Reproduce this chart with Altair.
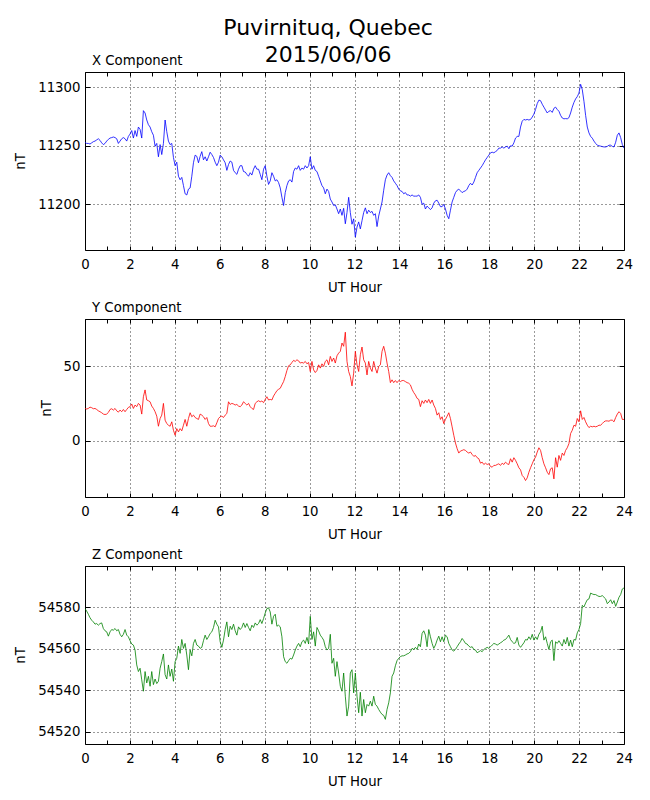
import altair as alt
import pandas as pd

N = 324
HOURS = [round(i * 24 / (N - 1), 4) for i in range(N)]

X_VALS = [
    11253, 11252, 11252, 11251.5, 11252.5, 11253.5, 11254, 11255, 11256, 11254.6,
    11252.5, 11251, 11252, 11254, 11255.5, 11256.6, 11257, 11257.5, 11257, 11256,
    11252, 11254, 11256, 11257, 11256, 11254, 11258, 11260, 11263, 11256.6,
    11263, 11258, 11266, 11264, 11256.6, 11280, 11278, 11272, 11268, 11266,
    11262, 11259, 11249.6, 11252, 11240.6, 11251, 11242.5, 11252, 11272, 11262,
    11254, 11251, 11252, 11240, 11233, 11236, 11224, 11221, 11223, 11216,
    11209, 11208, 11213, 11214, 11224, 11235.5, 11242, 11241, 11235.5, 11241,
    11245, 11238, 11240.6, 11237, 11240.6, 11244.5, 11242.5, 11240, 11236, 11233,
    11236, 11242, 11240.6, 11238, 11235.5, 11229, 11234, 11237, 11236, 11229,
    11227, 11225.6, 11230, 11233, 11233, 11228, 11227.6, 11225.6, 11224, 11227,
    11225, 11230, 11233, 11230, 11230, 11225.6, 11221, 11230, 11233, 11224,
    11217, 11220, 11227, 11224, 11220, 11221, 11218.6, 11214, 11206, 11199,
    11210, 11216, 11220, 11221, 11219, 11228, 11231, 11230, 11233, 11229,
    11231, 11230, 11233, 11231, 11233, 11240.6, 11230, 11233, 11229, 11228,
    11224, 11220, 11216, 11214, 11209, 11213, 11211, 11204.5, 11202, 11199,
    11199.6, 11196, 11192, 11196, 11190.6, 11196.6, 11183.4, 11193, 11206, 11193,
    11183, 11187.6, 11172, 11180.6, 11185, 11179, 11186, 11193, 11197, 11192,
    11195, 11193, 11194, 11190.6, 11192, 11181, 11190, 11196, 11202, 11212,
    11221, 11225, 11227, 11224.5, 11223, 11220, 11218, 11216, 11213, 11211.5,
    11211, 11209, 11210, 11208, 11208, 11207, 11208, 11207, 11207, 11207,
    11208, 11206, 11200, 11201, 11196, 11198.5, 11197, 11195.5, 11197, 11201,
    11203, 11203.5, 11201, 11198, 11198, 11200, 11196, 11190.6, 11187.7, 11195,
    11202, 11206, 11210, 11212, 11213, 11211.5, 11210, 11211, 11211.5, 11213,
    11216, 11218, 11216.5, 11219, 11223, 11227, 11229, 11231, 11233, 11235.5,
    11238, 11240, 11242, 11244, 11244.5, 11244, 11245, 11246, 11248, 11248,
    11249, 11248, 11249, 11249.7, 11247.5, 11250, 11249.7, 11252.5, 11256.6, 11258,
    11258, 11266, 11271, 11272.5, 11272, 11272.5, 11272, 11272.5, 11274.5, 11277,
    11281, 11286, 11289, 11288.5, 11285.5, 11283, 11280.5, 11278, 11279.5, 11280,
    11278.5, 11282, 11283, 11281, 11279.5, 11276, 11273.7, 11273, 11273.2, 11273,
    11274, 11278, 11283, 11287, 11290, 11292, 11295, 11302.5, 11298, 11288,
    11276, 11266, 11261, 11258, 11256.5, 11254, 11252, 11250.5, 11250, 11249.7,
    11249.3, 11249, 11249, 11249.5, 11250.5, 11250.5, 11249.5, 11249, 11253, 11259,
    11261, 11257, 11251, 11248,
]

Y_VALS = [
    21.7, 21.3, 21.7, 22.6, 22.2, 21.5, 21.7, 21, 20.1, 19.5,
    18.8, 17.9, 17.6, 17.9, 19, 21, 21.5, 20.6, 21.7, 20.1,
    19.2, 20.6, 19.5, 21, 19.5, 21, 22.4, 22.9, 24.7, 21.7,
    24, 22.9, 25.1, 24, 17.9, 29.6, 34.2, 27.4, 26.9, 26.2,
    23.3, 21.7, 19.5, 16.5, 9.7, 14.9, 17.2, 25.1, 13.8, 11.5,
    10.4, 9.7, 12.7, 7, 3.6, 8.1, 5.9, 8.1, 6.6, 10.4,
    14.3, 9.7, 14.9, 18.8, 16.1, 17.2, 15.6, 14.9, 14.3, 17.9,
    17.2, 16.1, 14.3, 15.6, 11.5, 9.7, 9.7, 10, 9.3, 12,
    14.9, 16.1, 16.5, 15.6, 17.2, 18.3, 26.2, 24.4, 25.1, 24.7,
    24, 24.4, 23.3, 22.9, 24, 26.2, 25.1, 24, 25.1, 22.9,
    21.7, 21, 25.1, 26.2, 26.9, 26.2, 26.7, 25.6, 27.8, 29.6,
    27.4, 27.8, 27.4, 30.1, 31.9, 33.7, 34.6, 35.3, 37.6, 39.8,
    43.2, 47.3, 50.5, 51.1, 52.7, 54.1, 53.4, 54.5, 53.8, 52.3,
    52.7, 52.3, 53.4, 51.8, 52.7, 46.6, 53.4, 47.7, 45.9, 47.3,
    51.1, 48.9, 51.8, 50, 53.4, 54.5, 51.1, 56.8, 53.4, 55.7,
    52.3, 57.2, 59, 60.2, 65.8, 63.6, 73.1, 53.4, 46.6, 43.2,
    36.9, 45.5, 60.2, 51.1, 46.6, 57.9, 63.1, 54.5, 52.3, 44.3,
    53.4, 48.9, 46.6, 53.4, 48.9, 45.5, 50, 51.1, 60.2, 63.6,
    59, 52.3, 46.6, 39.1, 41, 39.1, 40.5, 39.1, 40.5, 39.8,
    40.5, 40.5, 39.8, 39.1, 38.7, 37.6, 34.6, 32.4, 30.8, 28.5,
    27.8, 22.9, 26.9, 25.1, 27.4, 25.6, 27.8, 25.1, 27.4, 24,
    21.7, 17.2, 18.8, 14.3, 16.1, 11.5, 14.3, 16.5, 18.8, 14.9,
    9.3, 3.6, -1.6, -5.4, -8.4, -7, -6.6, -6.1, -6.6, -7.7,
    -8.4, -7.7, -9.3, -10.6, -10, -11.5, -12.2, -15.2, -14.5, -16.1,
    -15.2, -16.1, -15.6, -17.4, -17.9, -16.7, -16.7, -16.1, -15.6, -16.7,
    -15.2, -16.1, -14.5, -15.6, -16.1, -12.2, -14.5, -11.5, -13.3, -15.6,
    -18.3, -19.7, -23.5, -24.7, -26.9, -25.1, -21.3, -18.3, -15.6, -12.9,
    -11.1, -7.7, -4.8, -6.6, -11.5, -15.6, -18.3, -21.3, -22.9, -19,
    -18.3, -25.8, -11.5, -17.9, -10, -13.3, -8.4, -10, -6.6, -4.8,
    -2, 4.8, 7, 10.4, 9.7, 14.9, 12.7, 20.1, 14.3, 15.6,
    12.7, 10.4, 8.8, 9.7, 9.3, 9.7, 9.3, 9.7, 10.4, 10.4,
    11.5, 12.7, 13.3, 13.3, 13.1, 13.8, 13.8, 12.7, 15.6, 17.9,
    19.5, 18.3, 14.3, 14.3,
]

Z_VALS = [
    54579.4, 54578.2, 54576.7, 54575, 54573.8, 54573, 54571.9, 54572.2, 54571.4, 54572.2,
    54572.5, 54569.8, 54568.7, 54568.2, 54566.1, 54568.2, 54569.3, 54569, 54569.8, 54568.7,
    54569.3, 54567, 54565.8, 54567, 54569.3, 54566.6, 54565.8, 54563.9, 54562.3, 54561.8,
    54559.4, 54552.2, 54549, 54550.6, 54545, 54539.5, 54549, 54543.5, 54546.7, 54541.9,
    54549, 54542.7, 54545.4, 54543.2, 54544.3, 54550.6, 54553.8, 54557.5, 54547.5, 54545.4,
    54552.2, 54546.7, 54550.2, 54544.3, 54553.8, 54555.4, 54561.3, 54557.8, 54564.5, 54560.2,
    54562.6, 54557, 54549.9, 54559.4, 54556.6, 54562.6, 54564.5, 54561.8, 54561.3, 54560.2,
    54560.7, 54563.9, 54566.6, 54564.5, 54565.8, 54567.4, 54568.2, 54570.3, 54573.8, 54571.9,
    54570.6, 54563.4, 54560.7, 54564.2, 54569.3, 54573, 54565.8, 54570.9, 54569.3, 54571.9,
    54568.7, 54566.6, 54570.6, 54569.3, 54570.3, 54572.5, 54570.3, 54572.2, 54570.3, 54568.7,
    54571.4, 54570.3, 54572.5, 54571.4, 54572.2, 54574.1, 54572.2, 54574.6, 54577.3, 54579.4,
    54579.8, 54577.8, 54571.9, 54575.7, 54576.7, 54570.9, 54571.4, 54570.6, 54565.8, 54556.2,
    54553.8, 54553, 54554.3, 54555.4, 54555, 54557, 54559.4, 54561.3, 54562.6, 54561,
    54563.4, 54564.2, 54562.6, 54565.5, 54562.3, 54575.7, 54564.5, 54568.2, 54561.3, 54570.3,
    54568.7, 54566.6, 54565.5, 54564.2, 54561, 54559.4, 54560.2, 54567, 54553, 54555.4,
    54546.7, 54553.8, 54548.3, 54541.9, 54539.5, 54548.3, 54537.1, 54527.5, 54532.3, 54548.3,
    54549.9, 54538.7, 54548.3, 54537.1, 54529.1, 54539, 54527.5, 54535.5, 54529.1, 54533.1,
    54532.3, 54534.7, 54532.3, 54537.1, 54533.1, 54532.3, 54530.7, 54529.4, 54528.3, 54527.8,
    54525.9, 54530.7, 54533.9, 54538.7, 54546.7, 54548.3, 54551.8, 54554.3, 54555.4, 54556.2,
    54556.6, 54556.6, 54557, 54557.5, 54557.8, 54558.6, 54560.2, 54559.7, 54560.7, 54559.7,
    54562.3, 54561, 54567.4, 54568.7, 54566.6, 54561, 54569.3, 54565.8, 54562.6, 54560.2,
    54561.8, 54564.2, 54566.1, 54563.4, 54565.8, 54563.4, 54566.6, 54565.8, 54562.6, 54561,
    54559.4, 54558.9, 54559.7, 54561, 54562.3, 54563.4, 54565, 54563.9, 54562.6, 54562.3,
    54561.3, 54560.7, 54561, 54559.7, 54559.4, 54558.1, 54558.6, 54559.1, 54558.6, 54559.7,
    54560.2, 54560.7, 54560.2, 54561, 54561.8, 54562.6, 54562.3, 54561.8, 54562.3, 54562.9,
    54563.4, 54564.2, 54564.5, 54565.5, 54566.6, 54564.5, 54563.4, 54562.6, 54562.9, 54565.5,
    54561.8, 54560.7, 54561.8, 54562.9, 54564.5, 54564.2, 54565.8, 54564.5, 54567, 54564.2,
    54565.8, 54564.5, 54567, 54568.2, 54570.9, 54564.2, 54565.8, 54562.6, 54559.7, 54563.4,
    54564.2, 54554.3, 54563.4, 54562.6, 54563.9, 54562.6, 54561.3, 54564.5, 54562.3, 54565.5,
    54561.3, 54564.2, 54561, 54564.5, 54564.2, 54567.7, 54569.3, 54572.2, 54581, 54580.2,
    54582.1, 54583.7, 54584.1, 54586.9, 54586.5, 54586.2, 54586.2, 54585.7, 54585.3, 54585.3,
    54585.7, 54584.9, 54584.1, 54581.8, 54582.6, 54583.7, 54581.8, 54583.3, 54580.5, 54582.6,
    54584.9, 54586.2, 54588.9, 54589.4,
]

X_LABEL_TICKS = [0, 2, 4, 6, 8, 10, 12, 14, 16, 18, 20, 22, 24]
X_ALL_TICKS = list(range(0, 25))

PANELS = [
    ("X Component", X_VALS, "#0000ff", [11161, 11313], [11200, 11250, 11300]),
    ("Y Component", Y_VALS, "#ff0000", [-38, 82], [0, 50]),
    ("Z Component", Z_VALS, "#008000", [54514, 54600], [54520, 54540, 54560, 54580]),
]

FONT = "DejaVu Sans"
W, H = 539, 178


def panel(name, vals, color, ydom, yticks):
    df = pd.DataFrame({"hour": HOURS, "value": vals})
    xs = alt.Scale(domain=[0, 24], nice=False)
    ys = alt.Scale(domain=ydom, nice=False, zero=False)
    base = alt.Chart(df)
    line = base.mark_line(color=color, strokeWidth=0.8, clip=True).encode(
        x=alt.X("hour:Q", scale=xs, axis=alt.Axis(
            values=X_LABEL_TICKS, title="UT Hour", grid=True, ticks=False,
            domain=False, labelPadding=7, labelFlush=False, titlePadding=10)),
        y=alt.Y("value:Q", scale=ys, axis=alt.Axis(
            values=yticks, format="d", title="nT", grid=True, ticks=False,
            domain=False, labelPadding=5, labelFlush=False, titlePadding=10)),
    )
    ticks_a = base.mark_line(strokeOpacity=0).encode(
        x=alt.X("hour:Q", scale=xs, axis=alt.Axis(
            orient="top", values=X_ALL_TICKS, labels=False, title=None, grid=False,
            domain=False, ticks=True, tickSize=4, offset=-4)),
        y=alt.Y("value:Q", scale=ys, axis=alt.Axis(
            orient="right", values=yticks, labels=False, title=None, grid=False,
            domain=False, ticks=True, tickSize=5, offset=-5)),
    )
    ticks_b = base.mark_line(strokeOpacity=0).encode(
        x=alt.X("hour:Q", scale=xs, axis=alt.Axis(
            orient="bottom", values=X_ALL_TICKS, labels=False, title=None, grid=False,
            domain=False, ticks=True, tickSize=4, offset=-4)),
        y=alt.Y("value:Q", scale=ys, axis=alt.Axis(
            orient="left", values=yticks, labels=False, title=None, grid=False,
            domain=False, ticks=True, tickSize=5, offset=-5)),
    )
    return alt.layer(line, ticks_a, ticks_b).resolve_axis(
        x="independent", y="independent"
    ).properties(
        width=W, height=H,
        title=alt.TitleParams(name, anchor="start", frame="group", fontSize=13.3,
                              fontWeight="normal", font=FONT, color="black",
                              dx=7, offset=4),
    )


chart = alt.vconcat(
    *[panel(*p) for p in PANELS], spacing=5
).properties(
    title=alt.TitleParams(["Puvirnituq, Quebec", "2015/06/06"], fontSize=22,
                          fontWeight="normal", font=FONT, color="black",
                          anchor="middle", lineHeight=27, offset=-13, dx=5),
    padding={"left": 5, "top": 8, "right": 5, "bottom": 5},
).configure_view(
    stroke="black", strokeWidth=1
).configure_axis(
    labelFont=FONT, titleFont=FONT, labelFontSize=13.3, titleFontSize=13.3,
    titleFontWeight="normal", labelColor="black", titleColor="black",
    gridColor="black", gridDash=[1, 3], gridWidth=0.8, gridOpacity=1,
    tickColor="black", tickWidth=1,
)

chart.save("out.html", embed_options={"renderer": "svg", "actions": False})
